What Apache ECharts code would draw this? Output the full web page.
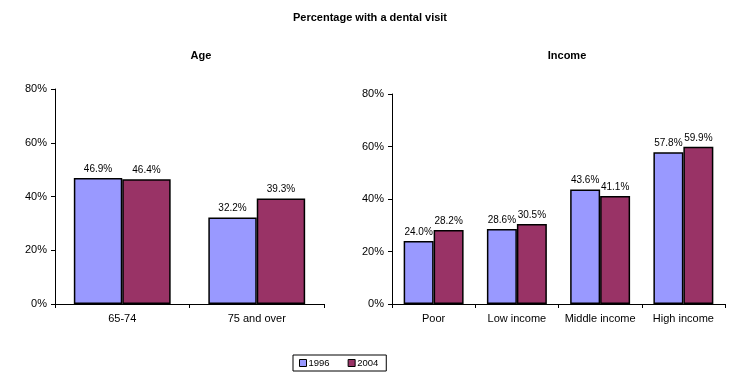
<!DOCTYPE html>
<html><head><meta charset="utf-8">
<script src="https://cdn.jsdelivr.net/npm/echarts@6/dist/echarts.min.js"></script>
<style>html,body{margin:0;padding:0;background:#fff}#c{width:730px;height:378px}</style>
</head><body><div id="c"></div>
<script>
const ageCategories = ['65-74', '75 and over'];
const age1996 = [46.9, 32.2];
const age2004 = [46.4, 39.3];
const incomeCategories = ['Poor', 'Low income', 'Middle income', 'High income'];
const income1996 = [24.0, 28.6, 43.6, 57.8];
const income2004 = [28.2, 30.5, 41.1, 59.9];
const yTicks = [0, 20, 40, 60, 80];
const seriesNames = ['1996', '2004'];
const colors = ['#9999FF', '#993366'];
const F = 'Liberation Sans, Arial, sans-serif';

const chart = echarts.init(document.getElementById('c'), null, {renderer: 'canvas'});
function yAxis(idx) {
  return {
    type: 'value', gridIndex: idx, min: yTicks[0], max: yTicks[yTicks.length - 1], interval: yTicks[1] - yTicks[0],
    axisLine: {show: true, lineStyle: {color: '#000', width: 1}},
    axisTick: {show: true, length: 4, lineStyle: {color: '#000'}},
    splitLine: {show: false},
    axisLabel: {formatter: '{value}%', fontFamily: F, fontSize: 11, color: '#000', margin: 8}
  };
}
function xAxis(idx, cats) {
  return {
    type: 'category', gridIndex: idx, data: cats,
    axisLine: {show: true, lineStyle: {color: '#000', width: 1}},
    axisTick: {show: true, length: 4, inside: false, lineStyle: {color: '#000'}},
    axisLabel: {interval: 0, fontFamily: F, fontSize: 11, color: '#000', margin: 9}
  };
}
function bar(name, data, xi, yi, ci) {
  return {
    name: name, type: 'bar', xAxisIndex: xi, yAxisIndex: yi, data: data,
    barCategoryGap: '28%', barGap: '0%',
    itemStyle: {color: colors[ci], borderColor: '#000', borderWidth: 1.5},
    label: {show: true, position: 'top', distance: 4, fontFamily: F, fontSize: 10, color: '#000',
      formatter: p => p.value.toFixed(1) + '%'}
  };
}
chart.setOption({
  animation: false,
  title: [
    {text: 'Percentage with a dental visit', left: 365, top: 7, textAlign: 'center',
      textStyle: {fontFamily: F, fontSize: 11, fontWeight: 'bold', color: '#000'}},
    {text: 'Age', left: 196, top: 45, textAlign: 'center',
      textStyle: {fontFamily: F, fontSize: 11, fontWeight: 'bold', color: '#000'}},
    {text: 'Income', left: 562, top: 45, textAlign: 'center',
      textStyle: {fontFamily: F, fontSize: 11, fontWeight: 'bold', color: '#000'}}
  ],
  legend: {
    data: seriesNames, left: 293, top: 355, itemWidth: 7, itemHeight: 7, itemGap: 18,
    padding: [3, 8, 3, 6], borderColor: '#000', borderWidth: 1,
    icon: 'rect',
    itemStyle: {borderColor: '#000', borderWidth: 1},
    textStyle: {fontFamily: F, fontSize: 9.5, color: '#000', padding: [0, 0, 0, -3]}
  },
  grid: [
    {left: 55, right: 406, top: 89, bottom: 74},
    {left: 392, right: 5, top: 94, bottom: 74}
  ],
  xAxis: [xAxis(0, ageCategories), xAxis(1, incomeCategories)],
  yAxis: [yAxis(0), yAxis(1)],
  series: [
    bar(seriesNames[0], age1996, 0, 0, 0),
    bar(seriesNames[1], age2004, 0, 0, 1),
    bar(seriesNames[0], income1996, 1, 1, 0),
    bar(seriesNames[1], income2004, 1, 1, 1)
  ]
});
</script></body></html>
